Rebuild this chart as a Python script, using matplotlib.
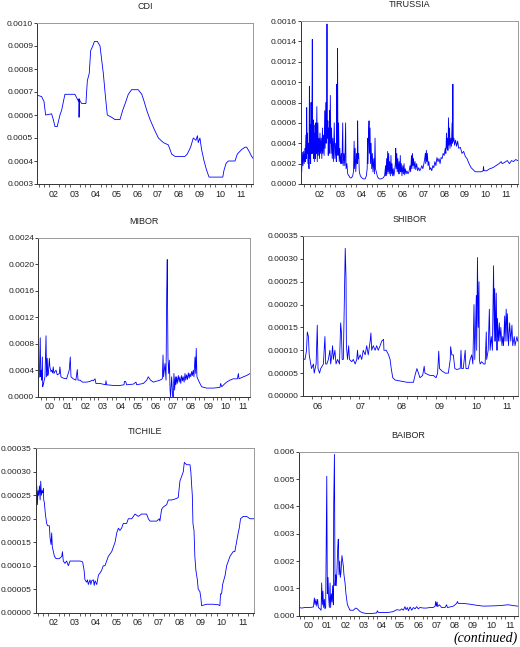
import matplotlib.pyplot as plt
import numpy as np
from matplotlib.ticker import MultipleLocator, FixedLocator, FormatStrFormatter

plt.rcParams['font.family'] = ['Liberation Sans', 'DejaVu Sans']

# (decimal year, value)
cdi = [
    (2001.69, 0.000686), (2001.90, 0.00068), (2001.95, 0.00067), (2002.01, 0.00066),
    (2002.09, 0.00060), (2002.38, 0.000605), (2002.46, 0.00058), (2002.54, 0.00055),
    (2002.65, 0.00055), (2002.78, 0.00060), (2002.86, 0.00062), (2003.02, 0.00069),
    (2003.50, 0.00069), (2003.67, 0.00066), (2003.69, 0.00067), (2003.70, 0.00059),
    (2003.72, 0.00067), (2003.75, 0.00066), (2003.83, 0.00065), (2003.91, 0.00065),
    (2004.03, 0.00065), (2004.10, 0.00075), (2004.19, 0.00078), (2004.26, 0.00088),
    (2004.36, 0.00090), (2004.44, 0.00092), (2004.58, 0.00092), (2004.71, 0.00090),
    (2004.87, 0.00078), (2004.95, 0.00070), (2005.06, 0.00060), (2005.27, 0.00059),
    (2005.43, 0.00058), (2005.67, 0.00058), (2005.80, 0.00062), (2005.96, 0.00066),
    (2006.07, 0.00069), (2006.23, 0.00071), (2006.55, 0.00071), (2006.72, 0.00069),
    (2006.83, 0.00066), (2006.96, 0.00062), (2007.12, 0.00058), (2007.31, 0.00054),
    (2007.52, 0.00050), (2007.76, 0.00048), (2008.00, 0.00047), (2008.16, 0.00043),
    (2008.32, 0.00042), (2008.80, 0.00042), (2008.91, 0.00043), (2009.07, 0.00046),
    (2009.20, 0.00050), (2009.33, 0.00049), (2009.40, 0.00051), (2009.44, 0.00048),
    (2009.52, 0.00050), (2009.60, 0.00045), (2009.72, 0.00040), (2009.81, 0.00037),
    (2009.88, 0.00035), (2009.96, 0.00033), (2010.62, 0.00033), (2010.68, 0.00036),
    (2010.78, 0.00039), (2010.89, 0.00040), (2011.21, 0.00040), (2011.32, 0.00043),
    (2011.53, 0.00045), (2011.69, 0.00046), (2011.77, 0.00046), (2011.90, 0.00044),
    (2012.01, 0.00042), (2012.09, 0.00041),
]

tirussia = [
    (2001.57, 0.00015), (2001.60, 0.00030), (2001.62, 0.00012), (2001.65, 0.00031),
    (2001.68, 0.00018), (2001.71, 0.00032), (2001.74, 0.00020), (2001.77, 0.00035),
    (2001.79, 0.00022), (2001.82, 0.00048), (2001.84, 0.00025), (2001.86, 0.00075),
    (2001.88, 0.00030), (2001.90, 0.00050), (2001.92, 0.00020), (2001.95, 0.00040),
    (2001.97, 0.00015), (2001.99, 0.00096), (2002.01, 0.00025), (2002.03, 0.00058),
    (2002.05, 0.00020), (2002.07, 0.00080), (2002.09, 0.00030), (2002.11, 0.00060),
    (2002.13, 0.00142), (2002.15, 0.00030), (2002.17, 0.00063), (2002.19, 0.00025),
    (2002.21, 0.00058), (2002.23, 0.00022), (2002.26, 0.00050), (2002.28, 0.00025),
    (2002.30, 0.00060), (2002.32, 0.00030), (2002.35, 0.00076), (2002.37, 0.00022),
    (2002.40, 0.00060), (2002.42, 0.00028), (2002.45, 0.00045), (2002.48, 0.00025),
    (2002.50, 0.00050), (2002.53, 0.00030), (2002.56, 0.00045), (2002.59, 0.00025),
    (2002.62, 0.00055), (2002.64, 0.00030), (2002.67, 0.00048), (2002.70, 0.00028),
    (2002.73, 0.00072), (2002.75, 0.00035), (2002.78, 0.00080), (2002.80, 0.00040),
    (2002.82, 0.00060), (2002.84, 0.00157), (2002.86, 0.00045), (2002.88, 0.00062),
    (2002.90, 0.00028), (2002.92, 0.00055), (2002.94, 0.00030), (2002.96, 0.00072),
    (2002.98, 0.00040), (2003.00, 0.00087), (2003.03, 0.00030), (2003.06, 0.00055),
    (2003.09, 0.00025), (2003.12, 0.00045), (2003.15, 0.00022), (2003.19, 0.00060),
    (2003.22, 0.00025), (2003.26, 0.00040), (2003.29, 0.00022), (2003.31, 0.00098),
    (2003.33, 0.00030), (2003.35, 0.00133), (2003.37, 0.00028), (2003.40, 0.00060),
    (2003.43, 0.00022), (2003.46, 0.00035), (2003.49, 0.00020), (2003.53, 0.00030),
    (2003.56, 0.00020), (2003.60, 0.00060), (2003.62, 0.00018), (2003.66, 0.00030),
    (2003.70, 0.00018), (2003.74, 0.00060), (2003.76, 0.00015), (2003.80, 0.00020),
    (2003.84, 0.00010), (2003.90, 0.00008), (2003.96, 0.00006), (2004.02, 0.00006),
    (2004.08, 0.00008), (2004.12, 0.00012), (2004.15, 0.00042), (2004.17, 0.00015),
    (2004.20, 0.00035), (2004.23, 0.00012), (2004.27, 0.00030), (2004.30, 0.00020),
    (2004.32, 0.00062), (2004.34, 0.00025), (2004.37, 0.00030), (2004.40, 0.00012),
    (2004.45, 0.00008), (2004.52, 0.00006), (2004.60, 0.00005), (2004.68, 0.00005),
    (2004.74, 0.00008), (2004.78, 0.00015), (2004.80, 0.00045), (2004.82, 0.00020),
    (2004.85, 0.00050), (2004.87, 0.00062), (2004.89, 0.00030), (2004.92, 0.00055),
    (2004.94, 0.00020), (2004.97, 0.00040), (2005.00, 0.00015), (2005.03, 0.00030),
    (2005.06, 0.00012), (2005.10, 0.00025), (2005.13, 0.00010), (2005.16, 0.00045),
    (2005.18, 0.00015), (2005.22, 0.00012), (2005.28, 0.00007), (2005.36, 0.00005),
    (2005.45, 0.00005), (2005.55, 0.00006), (2005.62, 0.00008), (2005.67, 0.00018),
    (2005.69, 0.00008), (2005.72, 0.00025), (2005.74, 0.00010), (2005.77, 0.00032),
    (2005.79, 0.00012), (2005.82, 0.00030), (2005.84, 0.00010), (2005.87, 0.00022),
    (2005.90, 0.00008), (2005.93, 0.00028), (2005.95, 0.00010), (2005.98, 0.00020),
    (2006.01, 0.00008), (2006.04, 0.00015), (2006.07, 0.00008), (2006.10, 0.00012),
    (2006.14, 0.00020), (2006.16, 0.00035), (2006.18, 0.00015), (2006.21, 0.00030),
    (2006.23, 0.00012), (2006.26, 0.00025), (2006.29, 0.00010), (2006.32, 0.00022),
    (2006.35, 0.00010), (2006.38, 0.00028), (2006.40, 0.00012), (2006.43, 0.00020),
    (2006.46, 0.00008), (2006.50, 0.00018), (2006.53, 0.00010), (2006.56, 0.00020),
    (2006.59, 0.00009), (2006.62, 0.00015), (2006.66, 0.00010), (2006.70, 0.00013),
    (2006.75, 0.00010), (2006.80, 0.00012), (2006.85, 0.00018), (2006.88, 0.00012),
    (2006.92, 0.00028), (2006.94, 0.00015), (2006.97, 0.00030), (2006.99, 0.00018),
    (2007.02, 0.00025), (2007.05, 0.00015), (2007.09, 0.00022), (2007.13, 0.00014),
    (2007.17, 0.00020), (2007.22, 0.00013), (2007.27, 0.00016), (2007.32, 0.00013),
    (2007.37, 0.00015), (2007.42, 0.00018), (2007.47, 0.00015), (2007.52, 0.00020),
    (2007.56, 0.00025), (2007.59, 0.00030), (2007.61, 0.00020), (2007.64, 0.00033),
    (2007.66, 0.00022), (2007.69, 0.00030), (2007.72, 0.00018), (2007.76, 0.00022),
    (2007.80, 0.00014), (2007.85, 0.00016), (2007.90, 0.00013), (2007.95, 0.00018),
    (2008.00, 0.00016), (2008.05, 0.00022), (2008.10, 0.00018), (2008.15, 0.00026),
    (2008.20, 0.00022), (2008.25, 0.00025), (2008.30, 0.00020), (2008.35, 0.00026),
    (2008.40, 0.00025), (2008.45, 0.00030), (2008.50, 0.00028), (2008.55, 0.00035),
    (2008.58, 0.00030), (2008.61, 0.00050), (2008.63, 0.00035), (2008.66, 0.00045),
    (2008.68, 0.00033), (2008.71, 0.00065), (2008.73, 0.00038), (2008.76, 0.00055),
    (2008.78, 0.00035), (2008.82, 0.00045), (2008.85, 0.00037), (2008.88, 0.00060),
    (2008.90, 0.00040), (2008.92, 0.00098), (2008.94, 0.00042), (2008.97, 0.00045),
    (2009.00, 0.00038), (2009.05, 0.00043), (2009.10, 0.00037), (2009.15, 0.00042),
    (2009.20, 0.00035), (2009.28, 0.00036), (2009.36, 0.00030), (2009.44, 0.00032),
    (2009.52, 0.00027), (2009.60, 0.00025), (2009.70, 0.00020), (2009.80, 0.00016),
    (2009.90, 0.00014), (2010.00, 0.00012), (2010.15, 0.00012), (2010.30, 0.00012),
    (2010.38, 0.00013), (2010.40, 0.00017), (2010.42, 0.00013), (2010.55, 0.00013),
    (2010.70, 0.00015), (2010.85, 0.00016), (2011.00, 0.00018), (2011.15, 0.00020),
    (2011.25, 0.00022), (2011.30, 0.00020), (2011.40, 0.00021), (2011.55, 0.00023),
    (2011.65, 0.00020), (2011.75, 0.00023), (2011.85, 0.00022), (2011.95, 0.00024),
    (2012.05, 0.00023),
]

mibor = [
    (1999.83, 0.00028), (1999.89, 0.00030), (1999.94, 0.00089), (1999.97, 0.00030),
    (2000.00, 0.00040), (2000.02, 0.00025), (2000.06, 0.00060), (2000.08, 0.00015),
    (2000.11, 0.00018), (2000.17, 0.00025), (2000.21, 0.00030), (2000.27, 0.00092),
    (2000.30, 0.00030), (2000.34, 0.00058), (2000.37, 0.00032), (2000.40, 0.00035),
    (2000.46, 0.00058), (2000.49, 0.00045), (2000.55, 0.00038), (2000.59, 0.00040),
    (2000.64, 0.00036), (2000.68, 0.00045), (2000.72, 0.00035), (2000.78, 0.00038),
    (2000.84, 0.00040), (2000.91, 0.00033), (2001.03, 0.00035), (2001.06, 0.00045),
    (2001.12, 0.00030), (2001.25, 0.00028), (2001.44, 0.00027), (2001.59, 0.00040),
    (2001.65, 0.00060), (2001.69, 0.00030), (2001.82, 0.00027), (2001.97, 0.00025),
    (2002.05, 0.00041), (2002.09, 0.00025), (2002.20, 0.00025), (2002.35, 0.00022),
    (2002.58, 0.00022), (2002.77, 0.00023), (2002.90, 0.00025), (2002.96, 0.00024),
    (2003.06, 0.00027), (2003.11, 0.00020), (2003.34, 0.00020), (2003.66, 0.00018),
    (2003.68, 0.00024), (2003.72, 0.00018), (2004.10, 0.00017), (2004.48, 0.00017),
    (2004.71, 0.00018), (2004.73, 0.00023), (2004.80, 0.00023), (2004.86, 0.00018),
    (2005.24, 0.00019), (2005.39, 0.00022), (2005.43, 0.00018), (2005.81, 0.00020),
    (2006.00, 0.00025), (2006.09, 0.00030), (2006.22, 0.00025), (2006.38, 0.00022),
    (2006.76, 0.00025), (2006.89, 0.00027), (2006.93, 0.00063), (2006.96, 0.00030),
    (2007.04, 0.00050), (2007.10, 0.00025), (2007.14, 0.00160), (2007.17, 0.00207),
    (2007.21, 0.00060), (2007.25, 0.00035), (2007.29, 0.00055), (2007.33, 0.00010),
    (2007.36, 0.00000), (2007.42, 0.00030), (2007.48, 0.00000), (2007.52, 0.00000),
    (2007.55, 0.00035), (2007.59, 0.00010), (2007.63, 0.00030), (2007.66, 0.00018),
    (2007.70, 0.00030), (2007.74, 0.00020), (2007.80, 0.00032), (2007.85, 0.00022),
    (2007.89, 0.00030), (2007.94, 0.00020), (2007.99, 0.00032), (2008.04, 0.00024),
    (2008.08, 0.00030), (2008.13, 0.00022), (2008.18, 0.00035), (2008.22, 0.00025),
    (2008.27, 0.00033), (2008.32, 0.00026), (2008.37, 0.00036), (2008.42, 0.00028),
    (2008.46, 0.00035), (2008.51, 0.00030), (2008.56, 0.00038), (2008.60, 0.00032),
    (2008.65, 0.00040), (2008.69, 0.00030), (2008.75, 0.00060), (2008.79, 0.00035),
    (2008.82, 0.00073), (2008.86, 0.00030), (2008.94, 0.00025), (2009.03, 0.00020),
    (2009.13, 0.00015), (2009.41, 0.00013), (2009.79, 0.00013), (2010.17, 0.00014),
    (2010.21, 0.00020), (2010.27, 0.00015), (2010.46, 0.00020), (2010.55, 0.00022),
    (2010.74, 0.00025), (2010.93, 0.00027), (2011.16, 0.00027), (2011.22, 0.00035),
    (2011.25, 0.00027), (2011.50, 0.00030), (2011.69, 0.00032), (2011.88, 0.00035),
]

shibor = [
    (2006.02, 0.000082), (2006.08, 0.000080), (2006.12, 0.000100), (2006.14, 0.000140),
    (2006.17, 0.000130), (2006.19, 0.000090), (2006.23, 0.000070), (2006.25, 0.000060),
    (2006.30, 0.000070), (2006.32, 0.000050), (2006.37, 0.000070), (2006.40, 0.000155),
    (2006.42, 0.000060), (2006.46, 0.000050), (2006.49, 0.000060), (2006.56, 0.000070),
    (2006.60, 0.000130), (2006.62, 0.000070), (2006.65, 0.000070), (2006.69, 0.000080),
    (2006.73, 0.000100), (2006.75, 0.000070), (2006.78, 0.000090), (2006.80, 0.000110),
    (2006.82, 0.000080), (2006.86, 0.000100), (2006.89, 0.000070), (2006.93, 0.000080),
    (2006.98, 0.000070), (2007.01, 0.000160), (2007.03, 0.000140), (2007.05, 0.000080),
    (2007.08, 0.000080), (2007.13, 0.000323), (2007.15, 0.000260), (2007.16, 0.000110),
    (2007.19, 0.000080), (2007.22, 0.000110), (2007.24, 0.000080), (2007.30, 0.000075),
    (2007.34, 0.000080), (2007.39, 0.000070), (2007.43, 0.000080), (2007.45, 0.000100),
    (2007.47, 0.000080), (2007.52, 0.000090), (2007.56, 0.000080), (2007.60, 0.000100),
    (2007.65, 0.000090), (2007.69, 0.000110), (2007.73, 0.000090), (2007.78, 0.000120),
    (2007.80, 0.000138), (2007.82, 0.000100), (2007.86, 0.000110), (2007.91, 0.000100),
    (2007.95, 0.000110), (2007.99, 0.000100), (2008.04, 0.000110), (2008.08, 0.000120),
    (2008.13, 0.000124), (2008.14, 0.000100), (2008.20, 0.000100), (2008.26, 0.000090),
    (2008.30, 0.000080), (2008.33, 0.000060), (2008.37, 0.000040), (2008.43, 0.000035),
    (2008.56, 0.000033), (2008.74, 0.000030), (2008.91, 0.000030), (2008.95, 0.000045),
    (2009.00, 0.000060), (2009.04, 0.000050), (2009.08, 0.000040), (2009.15, 0.000045),
    (2009.19, 0.000065), (2009.21, 0.000050), (2009.26, 0.000048), (2009.34, 0.000045),
    (2009.43, 0.000045), (2009.50, 0.000040), (2009.54, 0.000050), (2009.57, 0.000098),
    (2009.59, 0.000060), (2009.65, 0.000055), (2009.74, 0.000050), (2009.82, 0.000050),
    (2009.87, 0.000080), (2009.88, 0.000108), (2009.91, 0.000090), (2009.95, 0.000090),
    (2009.99, 0.000060), (2010.04, 0.000058), (2010.13, 0.000060), (2010.15, 0.000100),
    (2010.17, 0.000060), (2010.21, 0.000060), (2010.26, 0.000100), (2010.28, 0.000060),
    (2010.34, 0.000060), (2010.39, 0.000080), (2010.43, 0.000090), (2010.46, 0.000070),
    (2010.49, 0.000200), (2010.51, 0.000080), (2010.55, 0.000220), (2010.56, 0.000100),
    (2010.58, 0.000303), (2010.60, 0.000150), (2010.62, 0.000250), (2010.63, 0.000080),
    (2010.65, 0.000070), (2010.69, 0.000075), (2010.74, 0.000070), (2010.78, 0.000070),
    (2010.81, 0.000140), (2010.82, 0.000080), (2010.86, 0.000100), (2010.89, 0.000190),
    (2010.91, 0.000100), (2010.94, 0.000130), (2010.97, 0.000100), (2011.00, 0.000285),
    (2011.02, 0.000120), (2011.03, 0.000235), (2011.05, 0.000120), (2011.07, 0.000225),
    (2011.09, 0.000100), (2011.10, 0.000170), (2011.13, 0.000120), (2011.15, 0.000160),
    (2011.17, 0.000120), (2011.19, 0.000150), (2011.22, 0.000110), (2011.24, 0.000130),
    (2011.26, 0.000110), (2011.29, 0.000175), (2011.30, 0.000120), (2011.33, 0.000190),
    (2011.35, 0.000120), (2011.36, 0.000180), (2011.39, 0.000110), (2011.42, 0.000160),
    (2011.45, 0.000120), (2011.48, 0.000155), (2011.50, 0.000110), (2011.54, 0.000130),
    (2011.56, 0.000110), (2011.61, 0.000130), (2011.63, 0.000120),
]

tichile = [
    (2001.66, 0.000250), (2001.69, 0.000230), (2001.71, 0.000270), (2001.74, 0.000230),
    (2001.77, 0.000260), (2001.80, 0.000250), (2001.84, 0.000270), (2001.87, 0.000240),
    (2001.90, 0.000280), (2001.93, 0.000250), (2001.96, 0.000260), (2001.99, 0.000255),
    (2002.03, 0.000265), (2002.04, 0.000240), (2002.07, 0.000235), (2002.12, 0.000210),
    (2002.18, 0.000190), (2002.23, 0.000185), (2002.31, 0.000185), (2002.34, 0.000160),
    (2002.39, 0.000145), (2002.42, 0.000170), (2002.45, 0.000140), (2002.50, 0.000130),
    (2002.55, 0.000120), (2002.63, 0.000115), (2002.78, 0.000115), (2002.90, 0.000120),
    (2002.93, 0.000130), (2002.97, 0.000110), (2003.05, 0.000105), (2003.13, 0.000110),
    (2003.21, 0.000100), (2003.29, 0.000110), (2003.45, 0.000110), (2003.61, 0.000110),
    (2003.77, 0.000110), (2003.89, 0.000108), (2003.96, 0.000090), (2004.00, 0.000070),
    (2004.08, 0.000065), (2004.12, 0.000070), (2004.16, 0.000060), (2004.24, 0.000070),
    (2004.28, 0.000060), (2004.32, 0.000068), (2004.40, 0.000070), (2004.44, 0.000058),
    (2004.48, 0.000068), (2004.56, 0.000060), (2004.64, 0.000080), (2004.72, 0.000085),
    (2004.79, 0.000090), (2004.87, 0.000100), (2004.95, 0.000100), (2005.03, 0.000110),
    (2005.11, 0.000120), (2005.19, 0.000125), (2005.27, 0.000130), (2005.35, 0.000140),
    (2005.43, 0.000150), (2005.51, 0.000170), (2005.59, 0.000180), (2005.66, 0.000175),
    (2005.74, 0.000180), (2005.82, 0.000190), (2005.98, 0.000190), (2006.06, 0.000200),
    (2006.22, 0.000200), (2006.38, 0.000210), (2006.53, 0.000205), (2006.69, 0.000210),
    (2006.93, 0.000210), (2007.01, 0.000200), (2007.09, 0.000195), (2007.41, 0.000195),
    (2007.53, 0.000200), (2007.56, 0.000195), (2007.64, 0.000220), (2007.72, 0.000225),
    (2007.88, 0.000230), (2007.96, 0.000240), (2008.12, 0.000240), (2008.28, 0.000242),
    (2008.43, 0.000245), (2008.51, 0.000280), (2008.59, 0.000290), (2008.67, 0.000300),
    (2008.72, 0.000320), (2008.83, 0.000315), (2008.99, 0.000315), (2009.03, 0.000300),
    (2009.07, 0.000270), (2009.10, 0.000250), (2009.13, 0.000190), (2009.18, 0.000175),
    (2009.22, 0.000120), (2009.27, 0.000090), (2009.34, 0.000070), (2009.38, 0.000050),
    (2009.46, 0.000045), (2009.51, 0.000030), (2009.54, 0.000015), (2009.78, 0.000018),
    (2010.10, 0.000018), (2010.33, 0.000017), (2010.41, 0.000015), (2010.44, 0.000040),
    (2010.49, 0.000040), (2010.54, 0.000060), (2010.60, 0.000070), (2010.66, 0.000080),
    (2010.73, 0.000100), (2010.81, 0.000110), (2010.89, 0.000120), (2011.04, 0.000130),
    (2011.12, 0.000130), (2011.20, 0.000150), (2011.28, 0.000170), (2011.33, 0.000180),
    (2011.39, 0.000200), (2011.52, 0.000205), (2011.68, 0.000205), (2011.84, 0.000200),
    (2012.03, 0.000200),
]

baibor = [
    (1999.97, 0.00030), (2000.12, 0.00028), (2000.30, 0.00030), (2000.57, 0.00030),
    (2000.76, 0.00032), (2000.81, 0.00065), (2000.85, 0.00040), (2000.90, 0.00060),
    (2000.94, 0.00035), (2000.99, 0.00060), (2001.03, 0.00030), (2001.12, 0.00025),
    (2001.18, 0.00020), (2001.21, 0.00120), (2001.25, 0.00040), (2001.28, 0.00090),
    (2001.32, 0.00030), (2001.36, 0.00060), (2001.39, 0.00025), (2001.43, 0.00030),
    (2001.49, 0.00510), (2001.52, 0.00080), (2001.56, 0.00140), (2001.59, 0.00070),
    (2001.63, 0.00030), (2001.67, 0.00120), (2001.70, 0.00030), (2001.74, 0.00080),
    (2001.78, 0.00050), (2001.81, 0.00110), (2001.85, 0.00040), (2001.87, 0.00410),
    (2001.91, 0.00590), (2001.94, 0.00110), (2001.98, 0.00150), (2002.01, 0.00110),
    (2002.05, 0.00170), (2002.09, 0.00250), (2002.12, 0.00280), (2002.16, 0.00150),
    (2002.20, 0.00200), (2002.23, 0.00140), (2002.27, 0.00160), (2002.32, 0.00220),
    (2002.36, 0.00200), (2002.40, 0.00180), (2002.43, 0.00150), (2002.49, 0.00120),
    (2002.54, 0.00080), (2002.62, 0.00040), (2002.69, 0.00030), (2002.76, 0.00020),
    (2002.95, 0.00020), (2003.07, 0.00028), (2003.16, 0.00025), (2003.31, 0.00015),
    (2003.49, 0.00010), (2003.68, 0.00008), (2003.95, 0.00008), (2004.22, 0.00010),
    (2004.26, 0.00018), (2004.31, 0.00012), (2004.59, 0.00012), (2004.86, 0.00012),
    (2005.13, 0.00015), (2005.32, 0.00022), (2005.50, 0.00020), (2005.59, 0.00025),
    (2005.68, 0.00020), (2005.77, 0.00033), (2005.83, 0.00022), (2005.90, 0.00030),
    (2005.96, 0.00018), (2006.05, 0.00032), (2006.14, 0.00020), (2006.23, 0.00030),
    (2006.32, 0.00025), (2006.41, 0.00033), (2006.50, 0.00025), (2006.59, 0.00030),
    (2006.78, 0.00028), (2006.96, 0.00028), (2007.14, 0.00030), (2007.32, 0.00030),
    (2007.42, 0.00035), (2007.45, 0.00052), (2007.49, 0.00035), (2007.53, 0.00050),
    (2007.56, 0.00033), (2007.65, 0.00040), (2007.78, 0.00030), (2007.96, 0.00030),
    (2008.05, 0.00040), (2008.09, 0.00030), (2008.24, 0.00032), (2008.42, 0.00035),
    (2008.51, 0.00040), (2008.60, 0.00045), (2008.64, 0.00052), (2008.69, 0.00045),
    (2008.97, 0.00045), (2009.33, 0.00042), (2009.70, 0.00038), (2010.06, 0.00035),
    (2010.61, 0.00036), (2010.97, 0.00037), (2011.43, 0.00040), (2011.70, 0.00037),
    (2011.94, 0.00035),
]

# year labels (centre of each year span)
labels_cdi = list(range(2002, 2012))
labels_rus = list(range(2002, 2012))
labels_mib = list(range(2000, 2012))
labels_shi = list(range(2006, 2012))
labels_chi = list(range(2002, 2012))
labels_bai = list(range(2000, 2012))
shibor_label_pos = [2006.40, 2007.53, 2008.60, 2009.58, 2010.56, 2011.36]

W, H = 520, 647
panels = [
    # title, data, labels, label positions, px rect (l, t, r, b), xlim, ylim, ystep, fmt
    ('CDI', cdi, labels_cdi, None, (37.3, 23, 253.3, 184), (2001.69, 2012.09), (0.0003, 0.0010), 0.0001, '%.4f'),
    ('TIRUSSIA', tirussia, labels_rus, None, (300.7, 21, 517.7, 184), (2001.57, 2012.05), (0, 0.0016), 0.0002, '%.4f'),
    ('MIBOR', mibor, labels_mib, None, (38.3, 237.7, 250, 396.7), (1999.83, 2011.88), (0, 0.0024), 0.0004, '%.4f'),
    ('SHIBOR', shibor, labels_shi, shibor_label_pos, (302.7, 236, 517.7, 396), (2006.02, 2011.63), (0, 0.00035), 0.00005, '%.5f'),
    ('TICHILE', tichile, labels_chi, None, (35.7, 448.3, 254, 612.7), (2001.66, 2012.03), (0, 0.00035), 0.00005, '%.5f'),
    ('BAIBOR', baibor, labels_bai, None, (299, 451.7, 517.7, 615.7), (1999.97, 2011.94), (0, 0.006), 0.001, '%.3f'),
]

fig = plt.figure(figsize=(W / 100, H / 100), dpi=100)

for title, data, labs, lpos, (l, t, r, b), xl, yl, ystep, fmt in panels:
    ax = fig.add_axes([l / W, 1 - b / H, (r - l) / W, (b - t) / H])
    arr = np.array(data).T
    ax.plot(arr[0], arr[1], color='#0000ff', lw=0.6)
    ax.set_xlim(*xl)
    ax.set_ylim(*yl)
    ax.yaxis.set_major_locator(MultipleLocator(ystep))
    ax.yaxis.set_major_formatter(FormatStrFormatter(fmt))
    pos = lpos if lpos is not None else [y + 0.5 for y in labs]
    ax.xaxis.set_major_locator(FixedLocator(pos))
    ax.set_xticklabels(['%02d' % (y % 100) for y in labs])
    ax.xaxis.set_minor_locator(MultipleLocator(0.25))
    ax.tick_params(axis='x', which='major', length=0, pad=4, labelsize=6.5, colors='#222222')
    ax.tick_params(axis='x', which='minor', length=2, width=0.6, direction='out', color='#444444')
    ax.tick_params(axis='y', which='major', length=2, width=0.6, pad=1, labelsize=6,
                   direction='out', colors='#222222')
    for side in ['left', 'bottom']:
        ax.spines[side].set_color('#333333')
        ax.spines[side].set_linewidth(0.7)
    for side in ['top', 'right']:
        ax.spines[side].set_color('#999999')
        ax.spines[side].set_linewidth(0.7)
    ax.annotate(title, xy=(0.5, 1), xycoords='axes fraction', xytext=(0, 12),
                textcoords='offset points', ha='center', va='center', fontsize=6.5,
                color='#222222')

fig.text(0.995, 1 - 638 / H, '(continued)', ha='right', va='center',
         family=['Liberation Serif', 'DejaVu Serif'], style='italic', fontsize=10)

fig.savefig('out.png', dpi=100)
